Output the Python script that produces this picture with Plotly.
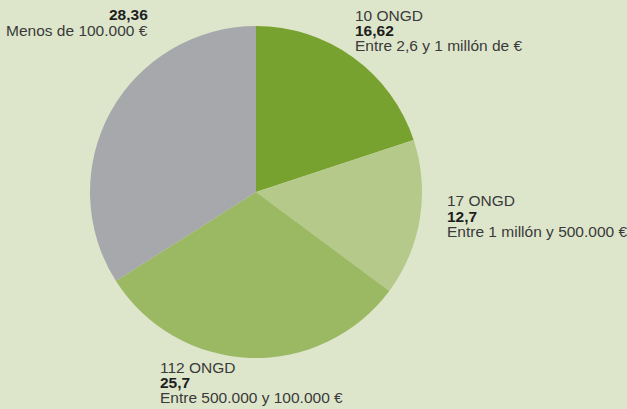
import plotly.graph_objects as go

W, H = 627, 409

categories = ["Entre 2,6 y 1 millón de €", "Entre 1 millón y 500.000 €",
              "Entre 500.000 y 100.000 €", "Menos de 100.000 €"]
values = [16.62, 12.7, 25.7, 28.36]
value_labels = ["16,62", "12,7", "25,7", "28,36"]
ongd_counts = ["10 ONGD", "17 ONGD", "112 ONGD", None]
colors = ["#77a22f", "#b4c98a", "#9bb862", "#a7a8ac"]

BG = "#dde6cb"
TXT = "#3a3a3a"
FONT = "Liberation Sans, Arial, sans-serif"
FS = 15.5

# pie geometry (pixels)
cx, cy, r = 256, 192, 166

fig = go.Figure(go.Pie(
    labels=categories, values=values, sort=False, direction="clockwise",
    rotation=0, marker=dict(colors=colors, line=dict(width=0)),
    textinfo="none", hoverinfo="label+value", showlegend=False,
    domain=dict(x=[(cx - r) / W, (cx + r) / W], y=[(H - cy - r) / H, (H - cy + r) / H]),
))

# label blocks: (x px, anchor, [line centres y px])
blocks = [
    (353, "left", [15, 31, 46]),
    (445, "left", [200, 216, 231]),
    (158, "left", [367, 382, 397]),
    (150, "right", [None, 14, 30]),
]

anns = []
for i, (x, anchor, ys) in enumerate(blocks):
    lines = [(ongd_counts[i], False), (value_labels[i], True), (categories[i], False)]
    for (txt, bold), y in zip(lines, ys):
        if txt is None or y is None:
            continue
        anns.append(dict(
            x=x / W, y=1 - y / H, xref="paper", yref="paper",
            xanchor=anchor, yanchor="middle", showarrow=False,
            text=f"<b>{txt}</b>" if bold else txt,
            font=dict(family=FONT, size=FS, color="#1e1e1e" if bold else TXT),
        ))

fig.update_layout(
    width=W, height=H, margin=dict(l=0, r=0, t=0, b=0),
    paper_bgcolor=BG, plot_bgcolor=BG, annotations=anns,
)

fig.write_html("out.html", config={"displayModeBar": False},
               post_script="document.body.style.margin='0';document.body.style.background='%s';" % BG)
